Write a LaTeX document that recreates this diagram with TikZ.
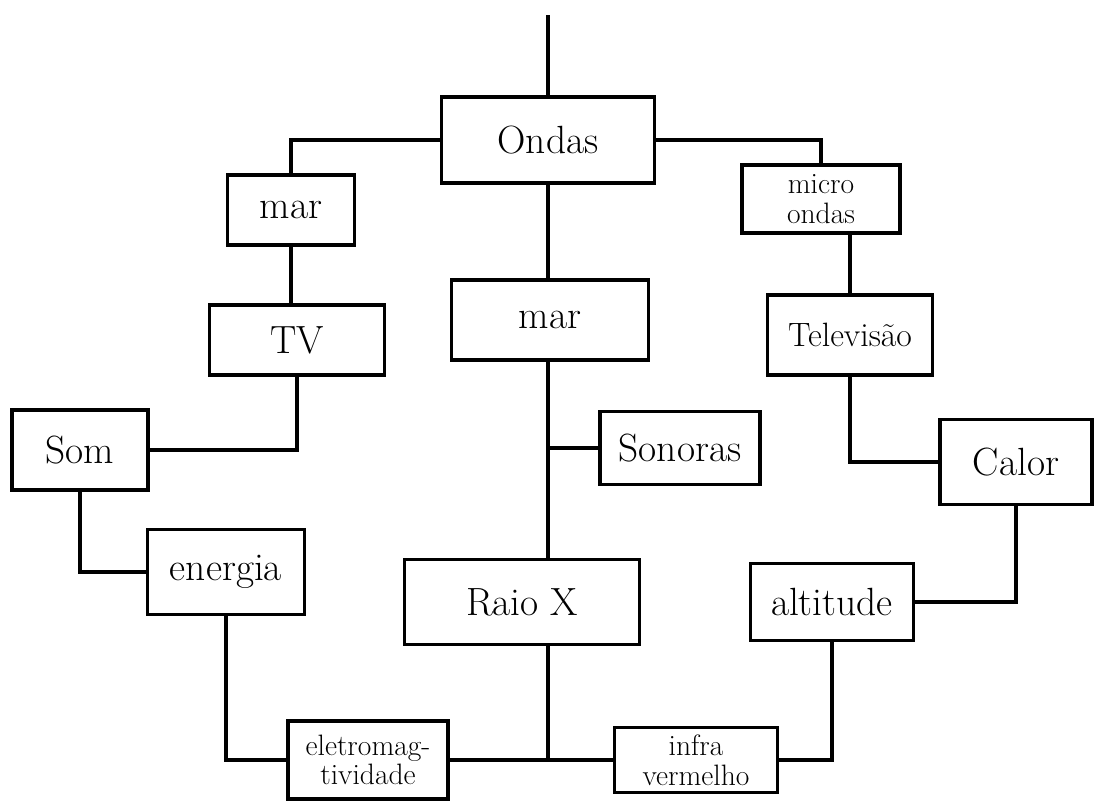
\documentclass[tikz,border=0pt]{standalone}
\usepackage{tikz}
\usetikzlibrary{positioning}

\begin{document}
\begin{tikzpicture}[x=0.025cm,y=-0.025cm]
  \tikzstyle{card}=[rectangle, draw, line width=2.6pt, inner sep=2pt, align=center, font=\fontsize{28}{30}\selectfont]
  \tikzstyle{duo}=[font=\fontsize{21}{21}\selectfont]
  \tikzstyle{link}=[line width=2.2pt]
  \useasboundingbox (0,0) rectangle (1096,805);
  % centre column
  \node[card, minimum width=5.33cm, minimum height=2.15cm] (ondas) at (548,140) {Ondas};
  \node[card, minimum width=4.93cm, minimum height=2.0cm] (marC) at (550,320) {mar};
  \node[card, minimum width=4.0cm, minimum height=1.83cm] (sonoras) at (680,448) {Sonoras};
  \node[card, minimum width=5.88cm, minimum height=2.13cm] (raio) at (522,602) {Raio X};
  % left side
  \node[card, minimum width=3.18cm, minimum height=1.75cm] (marL) at (291,210) {mar};
  \node[card, minimum width=4.38cm, minimum height=1.75cm] (tv) at (297,340) {TV};
  \node[card, minimum width=3.4cm, minimum height=2.0cm] (som) at (80,450) {Som};
  \node[card, minimum width=3.93cm, minimum height=2.13cm] (energia) at (226,572) {energia};
  \node[card, duo, minimum width=4.0cm, minimum height=1.95cm] (eletro) at (368,760) {eletromag-\\tividade};
  % right side
  \node[card, duo, minimum width=3.95cm, minimum height=1.7cm] (micro) at (821,199) {micro\\ondas};
  \node[card, minimum width=4.13cm, minimum height=2.0cm, font=\fontsize{24}{26}\selectfont] (tele) at (850,335) {Televisão};
  \node[card, minimum width=3.8cm, minimum height=2.13cm] (calor) at (1016,462) {Calor};
  \node[card, minimum width=4.08cm, minimum height=1.93cm] (altitude) at (832,602) {altitude};
  \node[card, duo, minimum width=4.08cm, minimum height=1.63cm] (infra) at (696,760) {infra\\vermelho};
  \coordinate (topend) at (548,15);
  % links
  \draw[link] (topend) -- (ondas.north);
  \draw[link] (ondas.west) -| (marL.north);
  \draw[link] (ondas.east) -| (micro.north);
  \draw[link] (ondas.south) -- (ondas.south |- marC.north);
  \draw[link] (ondas.south |- marC.south) -- (ondas.south |- raio.north);
  \draw[link] (sonoras.west) -- (sonoras.west -| ondas.south);
  \draw[link] (ondas.south |- raio.south) -- (ondas.south |- eletro.east);
  \draw[link] (eletro.east) -- (infra.west);
  \draw[link] (marL.south) -- (marL.south |- tv.north);
  \draw[link] (tv.south) |- (som.east);
  \draw[link] (som.south) |- (energia.west);
  \draw[link] (energia.south) |- (eletro.west);
  \draw[link] (tele.north |- micro.south) -- (tele.north);
  \draw[link] (tele.south) |- (calor.west);
  \draw[link] (calor.south) |- (altitude.east);
  \draw[link] (altitude.south) |- (infra.east);
\end{tikzpicture}
\end{document}
